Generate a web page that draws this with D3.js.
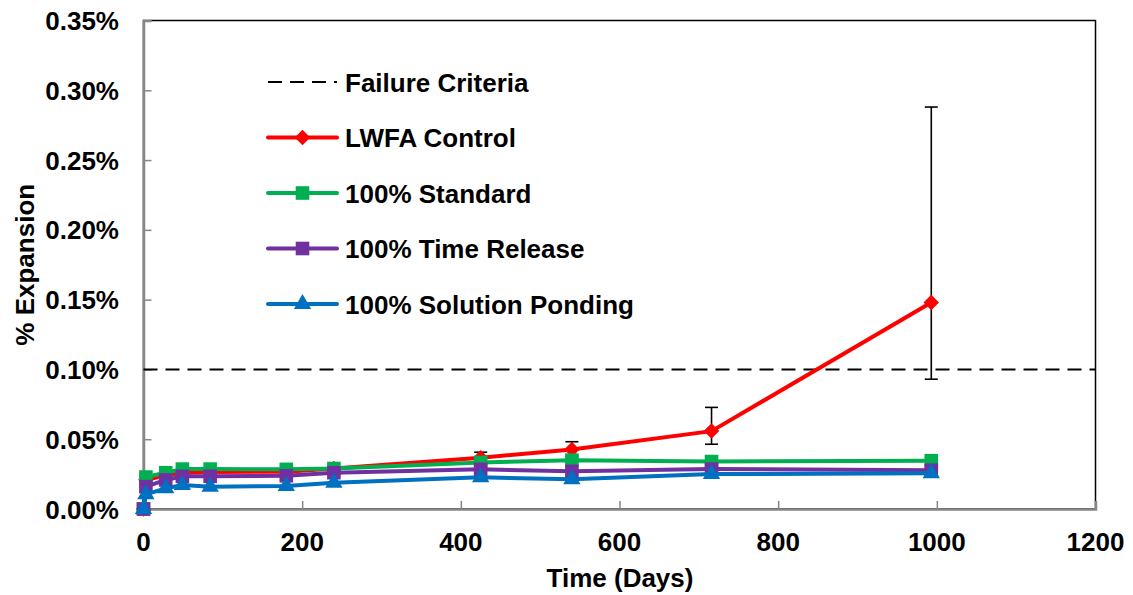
<!DOCTYPE html>
<html>
<head>
<meta charset="utf-8">
<script src="https://cdn.jsdelivr.net/npm/d3@7"></script>
<style>
  html, body { margin: 0; padding: 0; background: #fff; }
  svg { display: block; font-family: "Liberation Sans", Arial, sans-serif; font-weight: bold; }
</style>
</head>
<body>
<svg id="chart" width="1133" height="595"></svg>
<script>
// Expansion readings (% length change) over time
const days = [0, 3, 28, 49, 84, 180, 240, 425, 540, 716, 993];
const lwfaControl     = [0, 0.021, 0.024, 0.026, 0.0265, 0.0267, 0.029, 0.0367, 0.0427, 0.0558, 0.148];
const lwfaErrPlus     = [0, 0, 0, 0, 0, 0, 0, 0.004, 0.0055, 0.017, 0.140];
const lwfaErrMinus    = [0, 0, 0, 0, 0, 0, 0, 0.004, 0.005, 0.0094, 0.055];
const standard        = [0, 0.0229, 0.026, 0.0286, 0.0286, 0.0284, 0.029, 0.0334, 0.035, 0.034, 0.0346];
const timeRelease     = [0, 0.016, 0.0208, 0.0234, 0.0234, 0.0238, 0.026, 0.0284, 0.027, 0.0286, 0.0278];
const solutionPonding = [0, 0.0105, 0.0148, 0.0172, 0.016, 0.0165, 0.0188, 0.0227, 0.0213, 0.025, 0.0256];
const failureCriteria = 0.10;

const xTicks = [0, 200, 400, 600, 800, 1000, 1200];
const yTicks = [0, 0.05, 0.10, 0.15, 0.20, 0.25, 0.30, 0.35];

const seriesNames = ["LWFA Control", "100% Standard", "100% Time Release", "100% Solution Ponding"];

const svg = d3.select("#chart");
const plot = { left: 143.5, right: 1095.5, top: 20.5, bottom: 509 };

const x = d3.scaleLinear().domain([0, 1200]).range([plot.left, plot.right]);
const y = d3.scaleLinear().domain([0, 0.35]).range([plot.bottom, plot.top]);

const FS = 26;

// plot-area border (top / right)
svg.append("rect")
  .attr("x", plot.left).attr("y", plot.top)
  .attr("width", plot.right - plot.left).attr("height", plot.bottom - plot.top)
  .attr("fill", "none").attr("stroke", "#000").attr("stroke-width", 1.5);

// y axis (ticks inward)
const yAxis = d3.axisRight(y).tickValues(yTicks).tickSize(8).tickFormat("");
const gy = svg.append("g").attr("transform", `translate(${plot.left},0)`).call(yAxis);
gy.select(".domain").attr("stroke", "#868686").attr("stroke-width", 2.5);
gy.selectAll(".tick line").attr("stroke", "#868686").attr("stroke-width", 1.5);

// x axis (ticks inward)
const xAxis = d3.axisTop(x).tickValues(xTicks).tickSize(8).tickFormat("");
const gx = svg.append("g").attr("transform", `translate(0,${plot.bottom})`).call(xAxis);
gx.select(".domain").attr("stroke", "#868686").attr("stroke-width", 2.5);
gx.selectAll(".tick line").attr("stroke", "#868686").attr("stroke-width", 1.5);

// tick labels
svg.append("g").selectAll("text").data(yTicks).join("text")
  .attr("x", 119).attr("y", d => y(d) + 9.5)
  .attr("text-anchor", "end").attr("font-size", FS)
  .text(d => d3.format(".2f")(d) + "%");

svg.append("g").selectAll("text").data(xTicks).join("text")
  .attr("x", d => x(d)).attr("y", 551)
  .attr("text-anchor", "middle").attr("font-size", FS)
  .text(d => d);

// axis titles
svg.append("text")
  .attr("x", 620).attr("y", 587)
  .attr("text-anchor", "middle").attr("font-size", FS)
  .text("Time (Days)");

svg.append("text")
  .attr("transform", `translate(34,${(plot.top + plot.bottom) / 2}) rotate(-90)`)
  .attr("text-anchor", "middle").attr("font-size", FS)
  .text("% Expansion");

// failure criteria line
svg.append("line")
  .attr("x1", plot.left).attr("x2", plot.right)
  .attr("y1", y(failureCriteria)).attr("y2", y(failureCriteria))
  .attr("stroke", "#000").attr("stroke-width", 2).attr("stroke-dasharray", "14,8");

// series
const series = [
  { name: seriesNames[0], values: lwfaControl, color: "#FF0000", marker: "diamond" },
  { name: seriesNames[1], values: standard, color: "#00B050", marker: "square" },
  { name: seriesNames[2], values: timeRelease, color: "#7030A0", marker: "square" },
  { name: seriesNames[3], values: solutionPonding, color: "#0070C0", marker: "triangle" }
];

const symbolFor = m => ({
  diamond: d3.symbol().type(d3.symbolSquare).size(120),
  square: d3.symbol().type(d3.symbolSquare).size(185),
  triangle: d3.symbol().type(d3.symbolTriangle).size(130)
})[m];

const line = d3.line().x(d => x(d[0])).y(d => y(d[1]));

// error bars for the control
const eb = svg.append("g").attr("stroke", "#000").attr("stroke-width", 1.6);
days.forEach((dd, i) => {
  if (!lwfaErrPlus[i] && !lwfaErrMinus[i]) return;
  const cx = x(dd), yt = y(lwfaControl[i] + lwfaErrPlus[i]), yb = y(lwfaControl[i] - lwfaErrMinus[i]);
  eb.append("line").attr("x1", cx).attr("x2", cx).attr("y1", yt).attr("y2", yb);
  eb.append("line").attr("x1", cx - 6.5).attr("x2", cx + 6.5).attr("y1", yt).attr("y2", yt);
  eb.append("line").attr("x1", cx - 6.5).attr("x2", cx + 6.5).attr("y1", yb).attr("y2", yb);
});

function drawMarker(g, m, color, cx, cy) {
  return g.append("path").attr("d", symbolFor(m)()).attr("fill", color)
    .attr("transform", `translate(${cx},${cy})` + (m === "diamond" ? " rotate(45)" : ""));
}

series.forEach(s => {
  const pts = days.map((d, i) => [d, s.values[i]]);
  const g = svg.append("g");
  g.append("path").datum(pts).attr("d", line)
    .attr("fill", "none").attr("stroke", s.color).attr("stroke-width", 4)
    .attr("stroke-linejoin", "round");
  pts.forEach(p => drawMarker(g, s.marker, s.color, x(p[0]), y(p[1])));
});

// legend
const legend = svg.append("g");
const lx1 = 268, lx2 = 337, ltx = 345;
const legendRows = [{ name: "Failure Criteria", dashed: true }].concat(series);
legendRows.forEach((r, i) => {
  const cy = 82 + i * 55.5;
  if (r.dashed) {
    legend.append("line").attr("x1", lx1).attr("x2", lx2).attr("y1", cy).attr("y2", cy)
      .attr("stroke", "#000").attr("stroke-width", 2).attr("stroke-dasharray", "14,8");
  } else {
    legend.append("line").attr("x1", lx1).attr("x2", lx2).attr("y1", cy).attr("y2", cy)
      .attr("stroke", r.color).attr("stroke-width", 4).attr("stroke-linecap", "round");
    drawMarker(legend, r.marker, r.color, (lx1 + lx2) / 2, cy);
  }
  legend.append("text").attr("x", ltx).attr("y", cy + 9.5).attr("font-size", FS).text(r.name);
});
</script>
</body>
</html>
